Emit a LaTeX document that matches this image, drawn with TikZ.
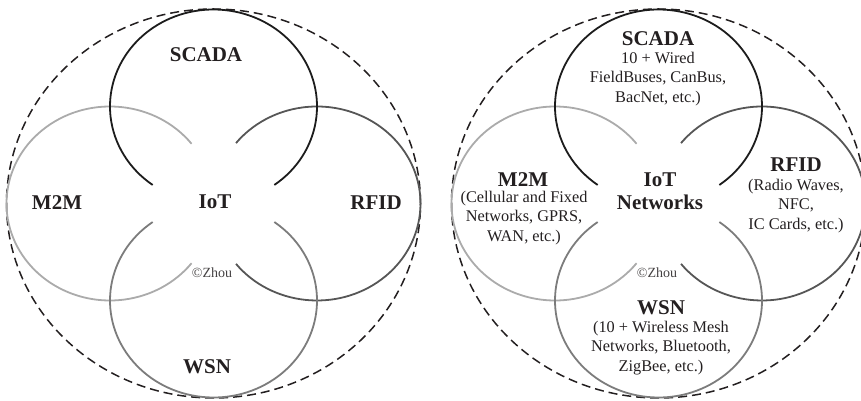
\documentclass[tikz,border=0pt]{standalone}
\usepackage{fontspec}
\setmainfont{Liberation Serif}
\usetikzlibrary{calc}
\definecolor{cScada}{HTML}{1C1C1C}
\definecolor{cRfid}{HTML}{565656}
\definecolor{cWsn}{HTML}{7C7C7C}
\definecolor{cMtm}{HTML}{ABABAB}
\definecolor{ink}{HTML}{231F20}
\begin{document}
\begin{tikzpicture}[x=1pt,y=1pt,
  ring/.style={line width=1.8pt},
  outer/.style={line width=1.5pt, dash pattern=on 9pt off 5pt, draw=ink},
  title/.style={inner sep=0pt, text=ink, font=\fontsize{21}{23}\selectfont\bfseries, align=center},
  body/.style={inner sep=0pt, text=ink, font=\fontsize{16.3}{19.3}\selectfont, align=center},
  copyr/.style={inner sep=0pt, text=ink!85, font=\fontsize{14}{15}\selectfont}]
\useasboundingbox (0,0) rectangle (861,401);
\clip (0,0) rectangle (861,401);
\foreach \cx/\nm in {213.5/L, 658.5/R}{
  \coordinate (C\nm) at (\cx,197.5);
  \coordinate (S\nm) at (\cx,294.5);
  \coordinate (W\nm) at (\cx,100.5);
  \coordinate (M\nm) at (\cx-103.5,197.5);
  \coordinate (F\nm) at (\cx+103.5,197.5);
  \draw[outer] (C\nm) ellipse[x radius=207, y radius=194.5];
  \draw[ring, cMtm] ($(M\nm)+(38:103.5 and 97)$) arc[start angle=38, end angle=322, x radius=103.5, y radius=97];
  \draw[ring, cRfid] ($(F\nm)+(-141.5:103.5 and 97)$) arc[start angle=-141.5, end angle=141.5, x radius=103.5, y radius=97];
  \draw[ring, cWsn] ($(W\nm)+(126:103.5 and 97)$) arc[start angle=126, end angle=414, x radius=103.5, y radius=97];
  \draw[ring, cScada] ($(S\nm)+(-54:103.5 and 97)$) arc[start angle=-54, end angle=234, x radius=103.5, y radius=97];
}
% left diagram
\node[title] (lscada) at (206,346) {SCADA};
\node[title] (lm2m) at (57,198) {M2M};
\node[title] (liot) at (215,199) {IoT};
\node[title] (lrfid) at (376,198) {RFID};
\node[title] (lwsn) at (207,34) {WSN};
\node[copyr] (lzhou) at (212,128) {©Zhou};
% right diagram
\node[title] (rscada) at (658,362) {SCADA};
\node[body] (rscadab) at (658,322) {10 + Wired\\FieldBuses, CanBus,\\BacNet, etc.)};
\node[title] (rm2m) at (523,221) {M2M};
\node[body] (rm2mb) at (524,183) {(Cellular and Fixed\\Networks, GPRS,\\WAN, etc.)};
\node[title] (riot) at (660,209.5) {IoT\\Networks};
\node[title] (rrfid) at (796,236) {RFID};
\node[body] (rrfidb) at (796,195) {(Radio Waves,\\NFC,\\IC Cards, etc.)};
\node[copyr] (rzhou) at (657,128) {©Zhou};
\node[title] (rwsn) at (661,93) {WSN};
\node[body] (rwsnb) at (661,53) {(10 + Wireless Mesh\\Networks, Bluetooth,\\ZigBee, etc.)};
\end{tikzpicture}
\end{document}
